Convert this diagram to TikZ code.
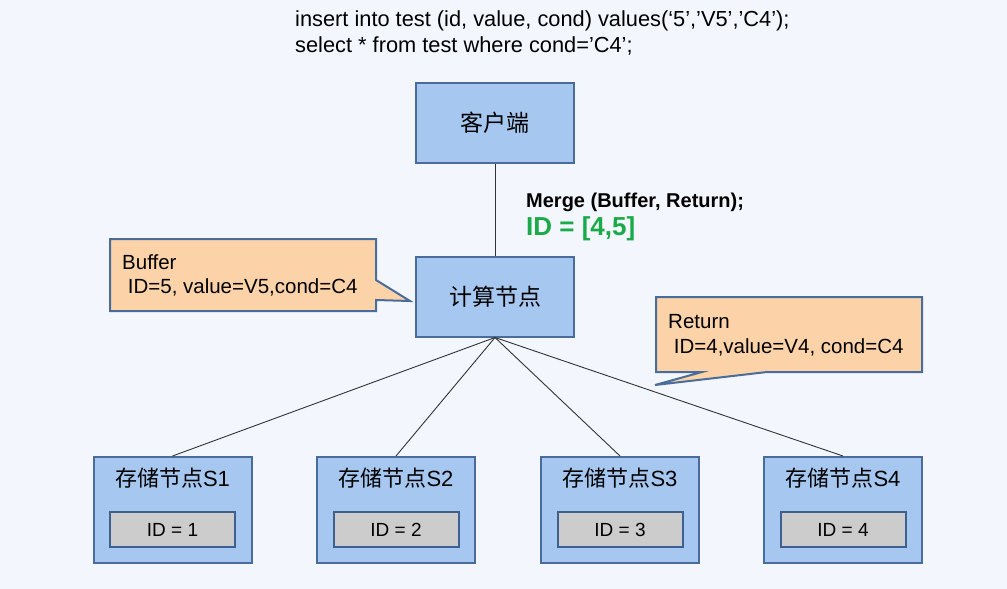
\documentclass[tikz,border=0pt]{standalone}
\usepackage{fontspec}
\setmainfont{Liberation Sans}
\newfontfamily\cjk{Noto Sans CJK SC}
\definecolor{bg}{HTML}{F3F7FD}
\definecolor{boxfill}{HTML}{A6C8F0}
\definecolor{boxline}{HTML}{4A6C9B}
\definecolor{callfill}{HTML}{FCD3A8}
\definecolor{idfill}{HTML}{CCCCCC}
\definecolor{idline}{HTML}{3E6090}
\definecolor{idgreen}{HTML}{1AAA48}
\definecolor{connc}{HTML}{333333}
\begin{document}
\begin{tikzpicture}[x=1pt,y=-1pt,
  box/.style={draw=boxline, line width=2pt, fill=boxfill, minimum width=158pt, minimum height=80pt, inner sep=0pt, font=\cjk\fontsize{23}{27}\selectfont},
  sbox/.style={draw=boxline, line width=2pt, fill=boxfill, minimum width=158pt, minimum height=106pt, inner sep=0pt},
  slabel/.style={inner sep=0pt, font=\fontsize{22}{26}\selectfont},
  idbox/.style={draw=idline, line width=2pt, fill=idfill, minimum width=125pt, minimum height=35pt, inner sep=0pt, font=\fontsize{19}{23}\selectfont},
  txt/.style={anchor=base west, inner sep=0pt, font=\fontsize{21.8}{25}\selectfont},
  calltxt/.style={anchor=base west, inner sep=0pt, font=\fontsize{20.5}{24}\selectfont},
  callout/.style={draw=boxline, line width=2pt, fill=callfill, line join=miter},
  conn/.style={draw=connc, line width=0.9pt}
]
\fill[bg] (0,0) rectangle (1007,589);
\useasboundingbox (0,0) rectangle (1007,589);

% top SQL text
\node[txt] (sql1) at (295,27) {insert into test (id, value, cond) values(‘5’,’V5’,’C4’);};
\node[txt] (sql2) at (295,52) {select * from test where cond=’C4’;};

% main boxes
\node[box] (client) at (495,122.5) {客户端};
\node[box] (calc) at (495,296.5) {计算节点};

% merge text
\node[anchor=base west, inner sep=0pt, font=\bfseries\fontsize{20}{24}\selectfont] (merge) at (526,207) {Merge (Buffer, Return);};
\node[anchor=base west, inner sep=0pt, text=idgreen, font=\bfseries\fontsize{26}{30}\selectfont] (ids) at (526,235) {ID = [4,5]};

% callouts
\path[callout] (110,239) -- (376,239) -- (376,280) -- (410,301) -- (376,300) -- (376,311) -- (110,311) -- cycle;
\node[calltxt] (buf1) at (122,269) {Buffer};
\node[calltxt] (buf2) at (122,293) {\ ID=5, value=V5,cond=C4};

\path[callout] (656,297) -- (922,297) -- (922,372) -- (767,372) -- (655,385) -- (702,372) -- (656,372) -- cycle;
\node[calltxt] (ret1) at (668,328) {Return};
\node[calltxt] (ret2) at (668,353) {\ ID=4,value=V4, cond=C4};

% storage nodes
\foreach \i/\x in {1/172.5,2/396,3/620,4/843}{
  \node[sbox] (s\i) at (\x,510) {};
  \node[slabel] (l\i) at (\x,478) {{\cjk 存储节点}S\i};
  \node[idbox] (id\i) at (\x,529.5) {ID = \i};
}

% connectors
\draw[conn] (client) -- (calc);
\foreach \i in {1,2,3,4}{
  \draw[conn] (calc.south) -- (s\i.north);
}
\end{tikzpicture}
\end{document}
